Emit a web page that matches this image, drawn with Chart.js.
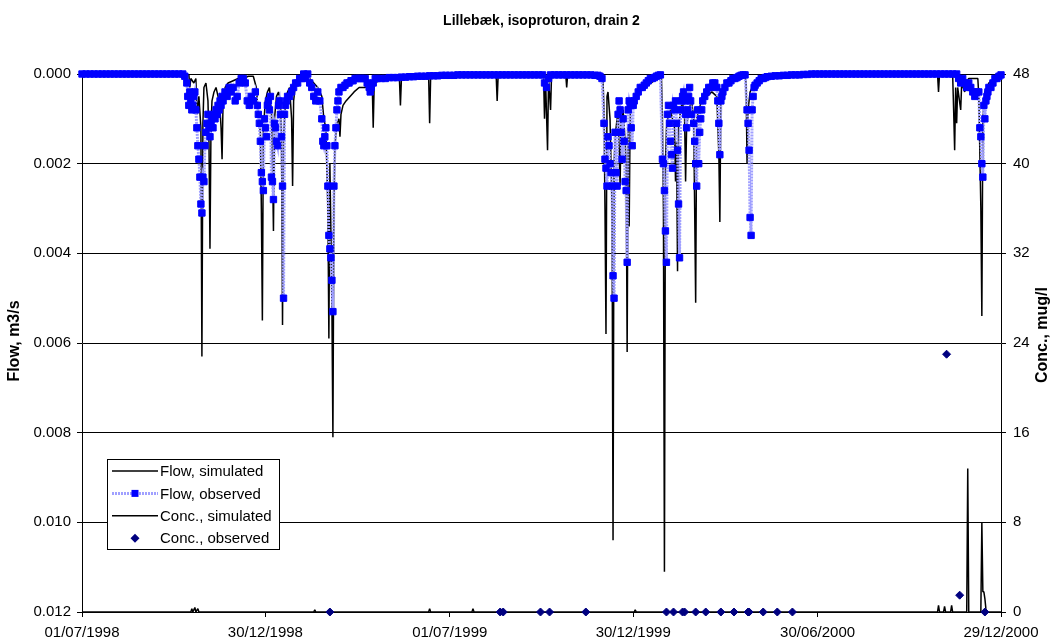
<!DOCTYPE html>
<html>
<head>
<meta charset="utf-8">
<title>Lillebæk, isoproturon, drain 2</title>
<script src="https://cdn.jsdelivr.net/npm/chart.js@4.4.1/dist/chart.umd.min.js"></script>
<style>
  html, body { margin: 0; padding: 0; background: #fff; }
</style>
</head>
<body>
<canvas id="chart" width="1055" height="644"></canvas>
<script>
const FONT = '"Liberation Sans", Arial, sans-serif';

const chartTitle = 'Lillebæk, isoproturon, drain 2';
const flowAxisTitle = 'Flow, m3/s';
const concAxisTitle = 'Conc., mug/l';

// x values are days counted from 01/07/1998
const xTickDays = [0, 182, 365, 547, 730, 912];
const xTickLabels = ['01/07/1998', '30/12/1998', '01/07/1999', '30/12/1999', '30/06/2000', '29/12/2000'];

// simulated drain flow, [day, m3/s]
const flowSim = [
  [0,0],[100,0],[102,0.0001],[103,0],[106,0],[107,0.0003],[108,0.0001],[111,0.0002],[113,0.0001],
  [114,0.0009],[116,0.0005],[118,0.0012],[119,0.0063],[120,0.0011],[121,0.0003],[123,0.0002],[125,0.0006],
  [126,0.0015],[127,0.0039],[128,0.0012],[129,0.0006],[131,0.0004],[133,0.0003],[135,0.0005],[137,0.0008],
  [138,0.0012],[139,0.0019],[140,0.0006],[142,0.0003],[145,0.0002],[150,0.00015],[155,0.0001],[160,0.0001],
  [165,0.00005],[170,0.00005],[173,0.0003],[175,0.0009],[177,0.0013],[178,0.0030],[179,0.0055],[180,0.0012],
  [182,0.0006],[184,0.0004],[186,0.0003],[188,0.0008],[189,0.0020],[190,0.0035],[191,0.0010],[193,0.0005],
  [195,0.0004],[197,0.0006],[198,0.0015],[199,0.0056],[200,0.0014],[202,0.0006],[204,0.0004],[206,0.0003],
  [208,0.0010],[209,0.0025],[210,0.0006],[212,0.0002],[216,0.00015],[220,0.0001],[226,0.0001],[230,0.0002],
  [234,0.0003],[238,0.0005],[240,0.0010],[242,0.0012],[244,0.0030],[245,0.0059],[246,0.0020],[247,0.0035],
  [248,0.0052],[249,0.0081],[250,0.0030],[251,0.0016],[253,0.0011],[255,0.0010],[256,0.0014],[257,0.0009],
  [259,0.0007],[262,0.0006],[266,0.0005],[270,0.0004],[275,0.0003],[281,0.0003],[288,0.0002],[289,0.0012],
  [290,0.0002],[300,0.0001],[315,0.0001],[316,0.0007],[317,0.0001],[330,0.00005],[344,0.00005],[345,0.0011],
  [346,0.00005],[380,0.00003],[411,0.00002],[412,0.0006],[413,0.00002],[458,0],[459,0.0010],[460,0.0001],
  [462,0.0017],[463,0.0001],[465,0.0008],[466,0],[480,0],[481,0.0003],[482,0],[514,0],[517,0.0001],
  [518,0.0008],[519,0.0030],[520,0.0058],[521,0.0005],[522,0.0004],[524,0.0010],[526,0.0030],[527,0.0104],
  [528,0.0020],[529,0.0015],[530,0.0012],[532,0.0008],[534,0.0025],[535,0.0010],[537,0.0008],[539,0.0015],
  [540,0.0020],[541,0.0062],[542,0.0012],[543,0.0034],[544,0.0009],[546,0.0007],[548,0.0005],[552,0.0004],
  [558,0.0003],[565,0.0002],[570,0.0001],[575,0.00005],[576,0.0010],[577,0.0030],[578,0.0111],[579,0.0020],
  [580,0.0012],[582,0.0009],[584,0.0008],[586,0.0010],[588,0.0012],[589,0.0024],[590,0.0015],[591,0.0044],
  [592,0.0012],[594,0.0008],[596,0.0006],[598,0.0010],[599,0.0024],[600,0.0012],[602,0.0008],[605,0.0006],
  [607,0.0010],[608,0.0030],[609,0.0051],[610,0.0010],[612,0.0008],[615,0.0006],[620,0.0005],[625,0.0004],
  [630,0.0005],[632,0.0018],[633,0.0033],[634,0.0006],[637,0.0003],[642,0.0002],[650,0.0001],[658,0.00005],
  [659,0.0002],[660,0.0020],[661,0.0008],[663,0.0004],[665,0.0003],[670,0.0002],[680,0.0001],[700,0.00005],
  [720,0],[849,0],[850,0.0004],[851,0],[864,0],[865,0.0008],[866,0.0017],[867,0.0003],[868,0.0011],
  [869,0.0003],[872,0.0008],[873,0.0002],[876,0.0004],[877,0.0002],[880,0.0001],[889,0.0001],[890,0.0005],
  [892,0.0030],[893,0.0054],[894,0.0010],[896,0.0004],[900,0.0002],[906,0.0001],[912,0.00005]
];

// measured drain flow, [day, m3/s]
const flowObs = [
  [0,0],[4,0],[8,0],[12,0],[16,0],[20,0],[24,0],[28,0],[32,0],[36,0],[40,0],[44,0],[48,0],[52,0],
  [56,0],[60,0],[64,0],[68,0],[72,0],[76,0],[80,0],[84,0],[88,0],[92,0],[96,0],[100,0],[102,0.00005],
  [104,0.0002],[105,0.0005],[106,0.0007],[107,0.0004],[108,0.0006],[109,0.0008],[110,0.0007],[111,0.0005],
  [112,0.0004],[113,0.0008],[114,0.0012],[115,0.0016],[116,0.0019],[117,0.0023],[118,0.0029],[119,0.0031],
  [120,0.0023],[121,0.0024],[122,0.0016],[123,0.0013],[124,0.0011],[125,0.0009],[126,0.0012],[127,0.0014],
  [128,0.0011],[129,0.0010],[130,0.0012],[131,0.0009],[132,0.0010],[133,0.0008],[134,0.0009],[135,0.0007],
  [136,0.0008],[137,0.0006],[138,0.0007],[139,0.0005],[140,0.0006],[142,0.0004],[144,0.0005],[146,0.0003],
  [148,0.0004],[150,0.0003],[152,0.0006],[154,0.0005],[156,0.0002],[158,0.0001],[160,0.0001],[162,0.0002],
  [164,0.0006],[166,0.0007],[168,0.0005],[170,0.0006],[172,0.0004],[174,0.0007],[175,0.0009],[176,0.0011],
  [177,0.0015],[178,0.0022],[179,0.0024],[180,0.0026],[181,0.0010],[182,0.0012],[183,0.0014],[184,0.0007],
  [185,0.0006],[186,0.0008],[187,0.0005],[188,0.0023],[189,0.0024],[190,0.0028],[191,0.0011],[192,0.0012],
  [193,0.0015],[194,0.0016],[195,0.0007],[196,0.0006],[197,0.0009],[198,0.0014],[199,0.0025],[200,0.0050],
  [201,0.0009],[202,0.0007],[203,0.0006],[204,0.0005],[206,0.0005],[208,0.0004],[210,0.0003],[212,0.0002],
  [214,0.0002],[216,0.0001],[218,0.0001],[220,0],[222,0.0001],[224,0],[226,0.0002],[228,0.0003],
  [230,0.0005],[232,0.0006],[234,0.0004],[236,0.0006],[238,0.0010],[239,0.0015],[240,0.0016],[241,0.0014],
  [242,0.0012],[243,0.0016],[244,0.0025],[245,0.0036],[246,0.0039],[247,0.0041],[248,0.0046],[249,0.0053],
  [250,0.0025],[251,0.0016],[252,0.0012],[253,0.0008],[254,0.0006],[255,0.0004],[257,0.0003],[259,0.0003],
  [261,0.00025],[263,0.0002],[265,0.0002],[267,0.00015],[269,0.00015],[271,0.0001],[273,0.0001],[275,0.0001],
  [277,0.0001],[279,0.0001],[281,0.0001],[283,0.0002],[285,0.0003],[286,0.0004],[287,0.0003],[289,0.0002],
  [291,0.0001],[293,0.0001],[297,0.0001],[301,0.0001],[305,0.00008],[309,0.00008],[313,0.00008],[317,0.00007],
  [321,0.00007],[325,0.00006],[329,0.00006],[333,0.00005],[337,0.00005],[341,0.00005],[345,0.00004],
  [349,0.00004],[353,0.00004],[357,0.00003],[361,0.00003],[365,0.00003],[369,0.00003],[373,0.00002],
  [377,0.00002],[381,0.00002],[385,0.00002],[389,0.00002],[393,0.00002],[397,0.00002],[401,0.00002],
  [405,0.00002],[409,0.00002],[413,0.00002],[417,0.00002],[421,0.00002],[425,0.00002],[429,0.00002],
  [433,0.00002],[437,0.00002],[441,0.00002],[445,0.00002],[449,0.00002],[453,0.00002],[457,0.00002],
  [459,0.0002],[461,0.0003],[463,0.0001],[465,0.00002],[469,0.00002],[473,0.00002],[477,0.00002],
  [481,0.00002],[485,0.00002],[489,0.00002],[493,0.00002],[497,0.00002],[501,0.00002],[505,0.00002],
  [509,0.00003],[512,0.00003],[514,0.00005],[516,0.0001],[518,0.0011],[519,0.0019],[520,0.0021],[521,0.0025],
  [522,0.0014],[523,0.0016],[524,0.0020],[525,0.0022],[526,0.0025],[527,0.0045],[528,0.0050],[529,0.0013],
  [530,0.0022],[531,0.0025],[532,0.0009],[533,0.0006],[534,0.0008],[535,0.0013],[536,0.0019],[537,0.0010],
  [538,0.0015],[539,0.0024],[540,0.0026],[541,0.0042],[542,0.0008],[543,0.0006],[544,0.0007],[545,0.0012],
  [546,0.0016],[547,0.0007],[548,0.0006],[550,0.0005],[552,0.0004],[554,0.0003],[556,0.0003],[558,0.00025],
  [560,0.0002],[562,0.00015],[564,0.0001],[566,0.0001],[568,0.00008],[570,0.00005],[572,0.00003],
  [574,0.00002],[576,0.0019],[577,0.0020],[578,0.0026],[579,0.0035],[580,0.0042],[581,0.0009],[582,0.0007],
  [583,0.0011],[584,0.0015],[585,0.0018],[586,0.0021],[587,0.0007],[588,0.0008],[589,0.0006],[590,0.0011],
  [591,0.0017],[592,0.0029],[593,0.0041],[594,0.0008],[595,0.0006],[596,0.0005],[597,0.0004],[598,0.0006],
  [599,0.0009],[600,0.0012],[601,0.0008],[602,0.0005],[603,0.0003],[604,0.0006],[605,0.0009],[607,0.0011],
  [608,0.0015],[609,0.0020],[610,0.0025],[611,0.0008],[612,0.0020],[613,0.0013],[614,0.0010],[615,0.0008],
  [616,0.0006],[618,0.0005],[620,0.0004],[622,0.0003],[624,0.0003],[626,0.0002],[628,0.0002],[630,0.0003],
  [631,0.0006],[632,0.0011],[633,0.0018],[634,0.0006],[635,0.0005],[636,0.0004],[638,0.0003],[640,0.0002],
  [642,0.0002],[644,0.00015],[646,0.0001],[648,0.0001],[650,0.00008],[652,0.00005],[654,0.00003],
  [656,0.00002],[658,0.00002],[660,0.0008],[661,0.0011],[662,0.0017],[663,0.0032],[664,0.0036],[665,0.0008],
  [666,0.0005],[667,0.0003],[668,0.00025],[670,0.0002],[672,0.00015],[674,0.0001],[676,0.0001],[678,0.00008],
  [680,0.00006],[684,0.00005],[688,0.00004],[692,0.00004],[696,0.00003],[700,0.00003],[704,0.00002],
  [708,0.00002],[712,0.00002],[716,0.00001],[720,0.00001],[724,0],[728,0],[732,0],[736,0],[740,0],[744,0],
  [748,0],[752,0],[756,0],[760,0],[764,0],[768,0],[772,0],[776,0],[780,0],[784,0],[788,0],[792,0],[796,0],
  [800,0],[804,0],[808,0],[812,0],[816,0],[820,0],[824,0],[828,0],[832,0],[836,0],[840,0],[844,0],[848,0],
  [852,0],[856,0],[860,0],[864,0],[868,0],[870,0.0001],[872,0.0002],[874,0.0001],[876,0.0002],[878,0.0003],
  [880,0.0002],[882,0.0003],[884,0.0004],[886,0.0005],[888,0.0004],[890,0.0004],[891,0.0012],[892,0.0014],
  [893,0.0020],[894,0.0023],[895,0.0007],[896,0.0010],[897,0.0006],[898,0.0005],[899,0.0004],[900,0.0003],
  [902,0.0003],[904,0.0002],[906,0.0001],[908,0.0001],[910,0.00005],[912,0.00002]
];

// simulated isoproturon concentration, [day, mug/l]
const concSim = [
  [0,0],[108,0],[109,0.3],[110,0],[112,0.4],[113,0],[115,0.3],[116,0],[230,0],[231,0.2],[232,0],
  [344,0],[345,0.3],[346,0],[387,0],[388,0.3],[389,0],
  [548,0],[549,0.2],[550,0],[849,0],[850,0.6],[851,0],[855,0],[856,0.5],[857,0],[862,0],[863,0.6],[864,0],
  [878,0],[879,12.8],[880,0],[892,0],[893,8.0],[894,1.8],[895,1.8],[896,1.2],[897,0.3],[898,0],[912,0]
];

// measured isoproturon concentration, [day, mug/l]
const concObs = [
  [246,0],[415,0],[418,0],[455,0],[464,0],[500,0],[580,0],[587,0],[596,0],[598,0],[609,0],[619,0],
  [634,0],[647,0],[661,0],[662,0],[676,0],[690,0],[705,0],[858,23],[871,1.5],[896,0]
];

const toXY = rows => rows.map(([x, y]) => ({ x, y }));

Chart.defaults.font.family = FONT;
Chart.defaults.font.size = 15;
Chart.defaults.color = '#000';

// title, axis titles and the boxed legend inside the plot
const decorations = {
  id: 'decorations',
  afterDraw(chart) {
    const { ctx, chartArea } = chart;
    const midX = (chartArea.left + chartArea.right) / 2;
    const midY = (chartArea.top + chartArea.bottom) / 2;
    ctx.save();
    ctx.fillStyle = '#000';
    ctx.textAlign = 'center';
    ctx.textBaseline = 'middle';
    ctx.font = 'bold 14px ' + FONT;
    ctx.fillText(chartTitle, midX, 21);

    ctx.font = 'bold 16px ' + FONT;
    [[15, midY - 2, flowAxisTitle], [1043, midY - 8, concAxisTitle]].forEach(([x, y, text]) => {
      ctx.save();
      ctx.translate(x, y);
      ctx.rotate(-Math.PI / 2);
      ctx.fillText(text, 0, 0);
      ctx.restore();
    });

    const lx = chartArea.left + 25, ly = chartArea.top + 385, lw = 172, lh = 90;
    ctx.fillStyle = '#fff';
    ctx.fillRect(lx, ly, lw, lh);
    ctx.strokeStyle = '#000';
    ctx.lineWidth = 1;
    ctx.strokeRect(lx + 0.5, ly + 0.5, lw, lh);

    ctx.font = '15px ' + FONT;
    ctx.textAlign = 'left';
    chart.data.datasets.forEach((ds, i) => {
      const y = ly + 12 + i * 22.4;
      const mx = lx + 28;
      if (ds.showLine !== false) {
        ctx.save();
        ctx.strokeStyle = ds.borderColor;
        ctx.lineWidth = ds.borderWidth;
        ctx.setLineDash(ds.borderDash || []);
        ctx.beginPath();
        ctx.moveTo(lx + 5, y);
        ctx.lineTo(lx + 51, y);
        ctx.stroke();
        ctx.restore();
      }
      if (ds.pointRadius > 0) {
        ctx.fillStyle = ds.pointBackgroundColor;
        if (ds.pointStyle === 'rect') {
          ctx.fillRect(mx - 3.5, y - 3.5, 7, 7);
        } else {
          ctx.beginPath();
          ctx.moveTo(mx, y - 4.5);
          ctx.lineTo(mx + 4.5, y);
          ctx.lineTo(mx, y + 4.5);
          ctx.lineTo(mx - 4.5, y);
          ctx.closePath();
          ctx.fill();
        }
      }
      ctx.fillStyle = '#000';
      ctx.fillText(ds.label, lx + 53, y + 1);
    });
    ctx.restore();
  }
};

new Chart(document.getElementById('chart'), {
  type: 'line',
  data: {
    datasets: [
      {
        label: 'Flow, simulated',
        data: toXY(flowSim),
        yAxisID: 'y',
        borderColor: '#000',
        borderWidth: 1.5,
        borderJoinStyle: 'bevel',
        pointRadius: 0,
        order: 2
      },
      {
        label: 'Flow, observed',
        data: toXY(flowObs),
        yAxisID: 'y',
        borderColor: '#a0a0ff',
        borderWidth: 3,
        borderDash: [2, 1],
        pointStyle: 'rect',
        pointRadius: 4.5,
        pointBorderWidth: 1,
        pointBackgroundColor: '#0000ff',
        pointBorderColor: '#0000ff',
        clip: false,
        order: 1
      },
      {
        label: 'Conc., simulated',
        data: toXY(concSim),
        yAxisID: 'y2',
        borderColor: '#000',
        borderWidth: 1.5,
        borderJoinStyle: 'bevel',
        pointRadius: 0,
        order: 3
      },
      {
        label: 'Conc., observed',
        data: toXY(concObs),
        yAxisID: 'y2',
        showLine: false,
        pointStyle: 'rectRot',
        pointRadius: 4,
        pointBorderWidth: 1,
        pointBackgroundColor: '#000080',
        pointBorderColor: '#000080',
        clip: false,
        order: 0
      }
    ]
  },
  options: {
    responsive: false,
    animation: false,
    layout: { padding: { top: 74, left: 0, right: 0, bottom: 0 } },
    plugins: {
      legend: { display: false },
      tooltip: { enabled: false },
      title: { display: false }
    },
    scales: {
      x: {
        type: 'linear',
        min: xTickDays[0],
        max: xTickDays[xTickDays.length - 1],
        afterBuildTicks: scale => { scale.ticks = xTickDays.map(v => ({ value: v })); },
        afterFit: scale => { scale.height = 32; },
        ticks: {
          autoSkip: false,
          maxRotation: 0,
          padding: 7,
          callback: (value, index) => xTickLabels[index]
        },
        grid: { drawOnChartArea: false, tickLength: 5, color: '#000' },
        border: { color: '#000', width: 1 }
      },
      y: {
        position: 'left',
        reverse: true,
        min: 0,
        max: 0.012,
        afterFit: scale => { scale.width = 82; },
        ticks: {
          stepSize: 0.002,
          padding: 6,
          callback: value => value.toFixed(3)
        },
        grid: { color: '#000', lineWidth: 1, tickLength: 5 },
        border: { color: '#000', width: 1 }
      },
      y2: {
        position: 'right',
        min: 0,
        max: 48,
        afterFit: scale => { scale.width = 54; },
        ticks: { stepSize: 8, padding: 7 },
        grid: { drawOnChartArea: false, tickLength: 5, color: '#000' },
        border: { color: '#000', width: 1 }
      }
    }
  },
  plugins: [decorations]
});
</script>
</body>
</html>
